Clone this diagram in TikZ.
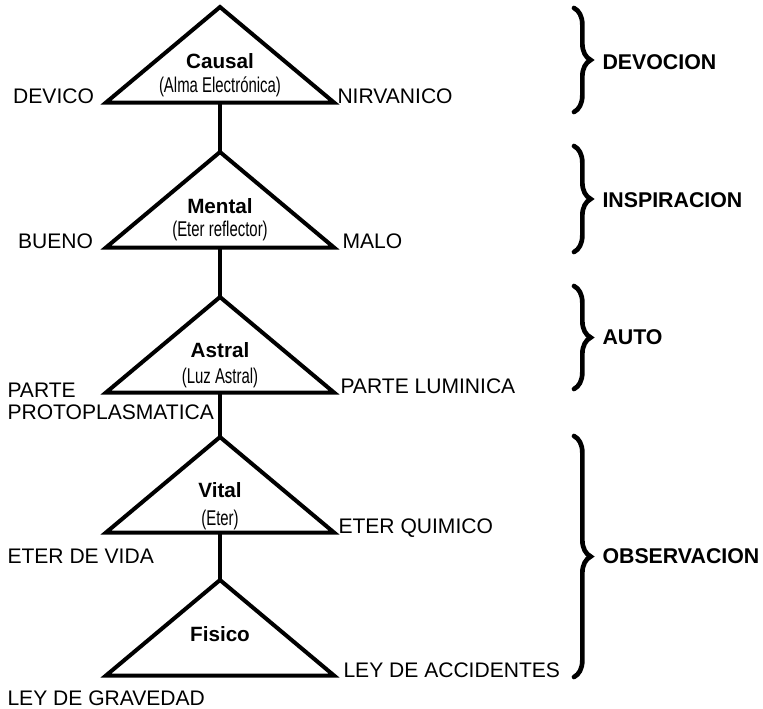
\documentclass[tikz,border=0pt]{standalone}
\usepackage{fontspec}
\setmainfont{Liberation Sans}
\newfontfamily\narrowfont[FakeStretch=0.7]{Liberation Sans}
\usetikzlibrary{calc, decorations.pathreplacing}

\begin{document}
\begin{tikzpicture}[x=.75pt,y=-.75pt,line width=3pt,
  every node/.style={inner sep=0pt,font=\fontsize{15.8}{16.5}\selectfont},
  plane/.style={font=\fontsize{15.5}{16.5}\selectfont\bfseries},
  vehicle/.style={font=\fontsize{16}{16.5}\selectfont\narrowfont},
  virtue/.style={font=\fontsize{16}{16.5}\selectfont\bfseries,anchor=west},
  bracket/.style={decorate,line width=3.5pt,line cap=round,decoration={brace,amplitude=12.5pt}}]
\useasboundingbox (0,0) rectangle (763,708);
% Draw the five triangles, one under the other
\foreach \n/\y in {causal/7,mental/152,astral/297,vital/437,fisico/580} {
  \coordinate (\n-top) at (220,\y);
  \coordinate (\n-left) at (106,\y+95.5);
  \coordinate (\n-right) at (334,\y+95.5);
  \coordinate (\n-base) at (220,\y+95.5);
  \draw (\n-top) -- (\n-left) -- (\n-right) -- cycle;
}
% Join each base to the next apex
\foreach \a/\b in {causal/mental,mental/astral,astral/vital,vital/fisico}
  \draw (\a-base) -- (\b-top);
% Names of the bodies and what they are made of
\node [plane] (causal) at ($(causal-base)+(0,-41)$) {Causal};
\node [vehicle] (alma) at ($(causal-base)+(0,-16)$) {(Alma Electrónica)};
\node [plane] (mental) at ($(mental-base)+(0,-41)$) {Mental};
\node [vehicle] (reflector) at ($(mental-base)+(0,-17)$) {(Eter reflector)};
\node [plane] (astral) at ($(astral-base)+(0,-42)$) {Astral};
\node [vehicle] (luz) at ($(astral-base)+(0,-15)$) {(Luz Astral)};
\node [plane] (vital) at ($(vital-base)+(0,-42)$) {Vital};
\node [vehicle] (eter) at ($(vital-base)+(0,-13)$) {(Eter)};
\node [plane] (fisico) at ($(fisico-base)+(0,-41)$) {Fisico};
% Labels at the corners
\node [anchor=base east] (devico) at ($(causal-left)+(-10,1)$) {DEVICO};
\node [anchor=base west] (nirvanico) at ($(causal-right)+(1.5,1)$) {NIRVANICO};
\node [anchor=base east] (bueno) at ($(mental-left)+(-11,0.5)$) {BUENO};
\node [anchor=base west] (malo) at ($(mental-right)+(6.5,0.5)$) {MALO};
\node [anchor=north west,align=left,font=\fontsize{15.8}{16.5}\selectfont] (proto) at (5.5,381) {PARTE\\PROTOPLASMATICA};
\node [anchor=base west] (luminica) at ($(astral-right)+(4.5,0.5)$) {PARTE LUMINICA};
\node [anchor=base west] (quimico) at ($(vital-right)+(2.5,0.5)$) {ETER QUIMICO};
\node [anchor=base west] (vida) at (5.5,563) {ETER DE VIDA};
\node [anchor=base west] (accidentes) at ($(fisico-right)+(7.5,1.5)$) {LEY DE ACCIDENTES};
\node [anchor=base west] (gravedad) at (5.5,705) {LEY DE GRAVEDAD};
% Braces on the right
\foreach \n/\t/\b in {devocion/8/112,inspiracion/146/252,auto/286/389,observacion/436/677} {
  \coordinate (\n-top) at (574,\t);
  \coordinate (\n-bot) at (574,\b);
  \draw [bracket] (\n-top) -- (\n-bot);
}
\node [virtue] (devocion) at ($(devocion-top)!.5!(devocion-bot)+(26.5,2)$) {DEVOCION};
\node [virtue] (inspiracion) at ($(inspiracion-top)!.5!(inspiracion-bot)+(26.5,1)$) {INSPIRACION};
\node [virtue] (auto) at ($(auto-top)!.5!(auto-bot)+(26.5,0)$) {AUTO};
\node [virtue] (observacion) at ($(observacion-top)!.5!(observacion-bot)+(26.5,0)$) {OBSERVACION};
\end{tikzpicture}
\end{document}
